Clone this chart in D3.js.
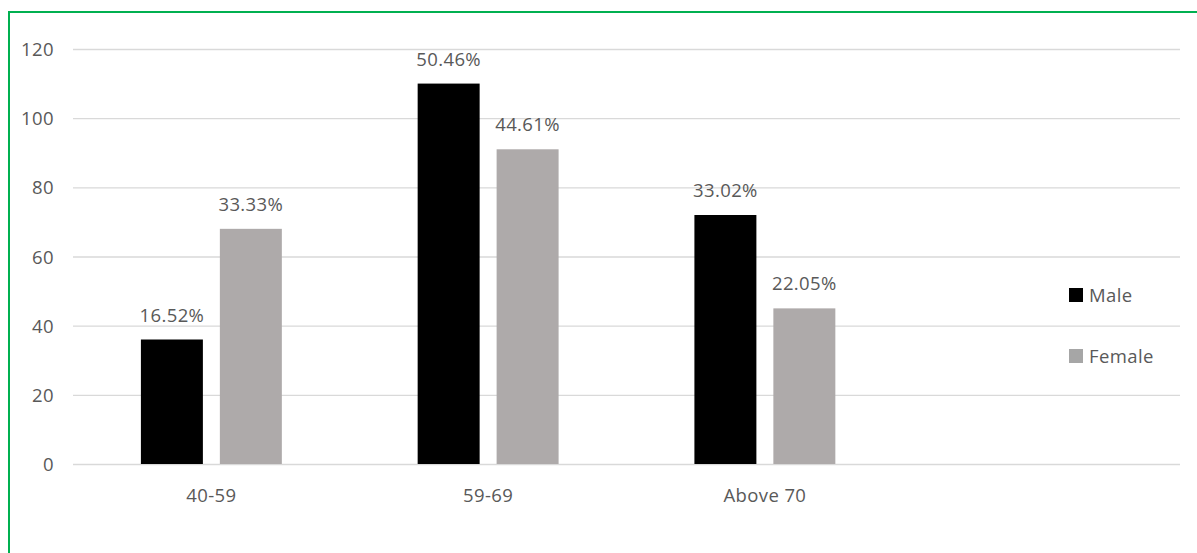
<!DOCTYPE html>
<html lang="en">
<head>
    <meta charset="UTF-8">
    <title>Age Group by Gender</title>
    <script src="https://d3js.org/d3.v7.min.js"></script>
    <style>
        body { margin: 0; background: #fff; }
        svg text { font-family: "Open Sans", "Noto Sans", sans-serif; fill: #595959; font-size: 18.5px; letter-spacing: 0.4px; }
        .grid line { stroke: #d9d9d9; stroke-width: 1.3; }
        .grid path { display: none; }
    </style>
</head>
<body>
    <div id="chart"></div>
    <script>
        // chart data
        const categories = ["40-59", "59-69", "Above 70"];
        const series = ["Male", "Female"];
        const maleValues = [36, 110, 72];
        const femaleValues = [68, 91, 45];
        const maleLabels = ["16.52%", "50.46%", "33.02%"];
        const femaleLabels = ["33.33%", "44.61%", "22.05%"];
        const yTicks = [0, 20, 40, 60, 80, 100, 120];

        const colors = { Male: "#000000", Female: "#aeaaaa" };

        const rows = categories.map((c, i) => ({
            cat: c,
            vals: [
                { key: "Male", value: maleValues[i], label: maleLabels[i] },
                { key: "Female", value: femaleValues[i], label: femaleLabels[i] }
            ]
        }));

        const W = 1197, H = 553;
        const plotLeft = 73, plotRight = 1180, plotTop = 49, plotBottom = 464;
        const step = (plotRight - plotLeft) / 4;

        const svg = d3.select("#chart").append("svg")
            .attr("width", W).attr("height", H);

        // green frame
        svg.append("line").attr("x1", 8).attr("x2", W).attr("y1", 12).attr("y2", 12)
            .attr("stroke", "#00b050").attr("stroke-width", 2);
        svg.append("line").attr("x1", 9).attr("x2", 9).attr("y1", 11).attr("y2", H)
            .attr("stroke", "#00b050").attr("stroke-width", 2);

        const x = d3.scaleBand().domain(categories)
            .range([plotLeft, plotLeft + step * categories.length]);
        const xInner = d3.scaleBand().domain(series)
            .range([0, x.bandwidth()])
            .paddingInner(0.215).paddingOuter(0.86);
        const y = d3.scaleLinear().domain([0, 120]).range([plotBottom, plotTop]);

        // gridlines
        svg.append("g").attr("class", "grid")
            .attr("transform", `translate(${plotLeft},0)`)
            .call(d3.axisLeft(y).tickValues(yTicks).tickSize(-(plotRight - plotLeft)).tickFormat(""));

        // y tick labels
        svg.append("g").selectAll("text")
            .data(yTicks).enter().append("text")
            .attr("x", 54).attr("y", d => y(d) + 7)
            .attr("text-anchor", "end")
            .text(d => d);

        // bars
        const groups = svg.append("g").selectAll("g")
            .data(rows).enter().append("g")
            .attr("transform", d => `translate(${x(d.cat)},0)`);

        groups.selectAll("rect")
            .data(d => d.vals).enter().append("rect")
            .attr("x", d => xInner(d.key))
            .attr("width", xInner.bandwidth())
            .attr("y", d => y(d.value))
            .attr("height", d => y(0) - y(d.value))
            .attr("fill", d => colors[d.key]);

        groups.selectAll("text.lbl")
            .data(d => d.vals).enter().append("text")
            .attr("class", "lbl")
            .attr("x", d => xInner(d.key) + xInner.bandwidth() / 2)
            .attr("y", d => y(d.value) - 18)
            .attr("text-anchor", "middle")
            .text(d => d.label);

        // x labels
        svg.append("g").selectAll("text")
            .data(categories).enter().append("text")
            .attr("x", d => x(d) + x.bandwidth() / 2)
            .attr("y", plotBottom + 38)
            .attr("text-anchor", "middle")
            .text(d => d);

        // legend
        const legend = svg.append("g").selectAll("g")
            .data(series).enter().append("g")
            .attr("transform", (d, i) => `translate(1069,${288 + i * 61})`);
        legend.append("rect")
            .attr("width", 14).attr("height", 14)
            .attr("fill", d => d === "Female" ? "#a6a6a6" : colors[d]);
        legend.append("text")
            .attr("x", 20).attr("y", 14)
            .text(d => d);
    </script>
</body>
</html>
